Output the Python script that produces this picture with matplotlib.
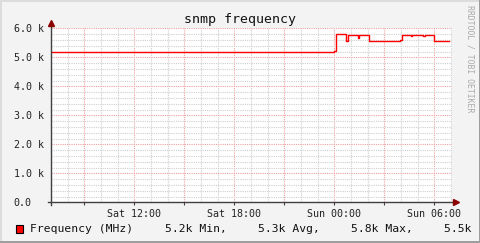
import numpy as np
import matplotlib.pyplot as plt
from matplotlib.patches import Rectangle

# frequency samples (hours since Sat 00:00, MHz), step style
hours = [7.0, 24.0, 24.1, 24.7, 24.82, 25.4, 25.5, 26.1, 27.94, 28.06,
         28.6, 28.66, 29.34, 29.42, 29.98, 30.9]
freq = [5170, 5220, 5790, 5560, 5760, 5670, 5760, 5560, 5600, 5770,
        5720, 5770, 5730, 5770, 5560, 5560]

x_ticks = [9, 12, 15, 18, 21, 24, 27, 30]
x_labels = ["", "Sat 12:00", "", "Sat 18:00", "", "Sun 00:00", "", "Sun 06:00"]
y_ticks = [0, 1000, 2000, 3000, 4000, 5000, 6000]
y_labels = ["0.0", "1.0 k", "2.0 k", "3.0 k", "4.0 k", "5.0 k", "6.0 k"]
legend_items = ["5.2k Min,", "5.3k Avg,", "5.8k Max,", "5.5k Last"]

mono = "DejaVu Sans Mono"
W, H = 481, 243
fig = plt.figure(figsize=(W / 100, H / 100), dpi=100, facecolor="#f3f3f3")
ax = fig.add_axes([51 / W, (H - 202.3) / H, 401 / W, 174 / H], facecolor="white")

ax.plot(hours, freq, drawstyle="steps-post", color="#ff0000", lw=1.0, zorder=5)

ax.set_xlim(7.0, 31.06)
ax.set_ylim(0, 6000)
ax.set_xticks(x_ticks)
ax.set_xticklabels(x_labels, family=mono, fontsize=7.2, color="#222222")
ax.set_xticks(np.arange(8, 32, 1), minor=True)
ax.set_yticks(y_ticks)
ax.set_yticklabels(y_labels, family=mono, fontsize=7.2, color="#222222")
ax.set_yticks(np.arange(0, 6001, 200), minor=True)
for lbl in ax.get_yticklabels():
    lbl.set_ha("left")

ax.tick_params(axis="y", which="both", length=0, pad=27)
ax.tick_params(axis="x", which="major", length=2, width=0.8, color="#404040",
               direction="out", pad=3)
ax.tick_params(axis="x", which="minor", length=0)

ax.grid(which="minor", color="#cfcfcf", lw=0.8, ls=(0, (1, 1)), zorder=1)
ax.grid(which="major", color="#f0a0a0", lw=0.8, ls=(0, (1, 1)), zorder=2)
ax.set_axisbelow(True)

for s in ax.spines.values():
    s.set_visible(False)

# axis lines with arrows
ax.plot([-0.008, 1.005], [0, 0], transform=ax.transAxes, color="#404040",
        lw=1.0, clip_on=False, zorder=6)
ax.plot([0, 0], [-0.015, 1.025], transform=ax.transAxes, color="#404040",
        lw=1.0, clip_on=False, zorder=6)
ax.plot([1.01], [0], transform=ax.transAxes, marker=">", ms=4,
        color="#8b0000", clip_on=False, zorder=7)
ax.plot([0], [1.03], transform=ax.transAxes, marker="^", ms=4,
        color="#8b0000", clip_on=False, zorder=7)

fig.text(240 / W, 1 - 19 / H, "snmp frequency", family=mono, fontsize=9.5,
         ha="center", va="center", color="#111111")

fig.text(470 / W, 1 - 5 / H, "RRDTOOL / TOBI OETIKER", family=mono,
         fontsize=5.9, rotation=270, ha="center", va="top", color="#aaaaaa")

# legend
fig.patches.append(Rectangle((16 / W, 1 - 233 / H), 7 / W, 8 / H,
                             transform=fig.transFigure, facecolor="#ff0000",
                             edgecolor="black", lw=0.8))
fig.text(30 / W, 1 - 229 / H, "Frequency (MHz)", family=mono, fontsize=8.2,
         ha="left", va="center", color="#111111")
for xi, item in zip([165, 258, 351.5, 444], legend_items):
    fig.text(xi / W, 1 - 229 / H, item, family=mono, fontsize=8.2,
             ha="left", va="center", color="#111111")

# frame shading
fig.patches.append(Rectangle((0, 1 - 2 / H), 1, 2 / H, transform=fig.transFigure,
                             facecolor="#dcdcdc", lw=0, zorder=10))
fig.patches.append(Rectangle((0, 0), 2 / W, 1, transform=fig.transFigure,
                             facecolor="#dcdcdc", lw=0, zorder=10))
fig.patches.append(Rectangle((1 - 2 / W, 0), 2 / W, 1, transform=fig.transFigure,
                             facecolor="#9e9e9e", lw=0, zorder=11))
fig.patches.append(Rectangle((0, 0), 1, 2 / H, transform=fig.transFigure,
                             facecolor="#9e9e9e", lw=0, zorder=11))

fig.savefig("out.png", dpi=100, facecolor=fig.get_facecolor())
